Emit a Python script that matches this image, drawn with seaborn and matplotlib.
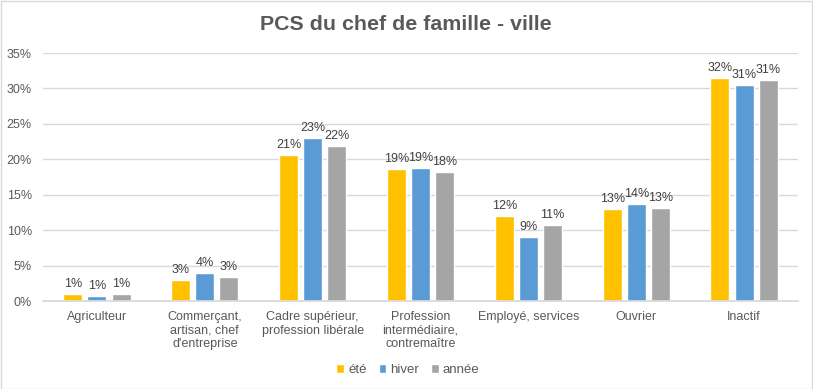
import matplotlib
matplotlib.use("Agg")
import matplotlib.pyplot as plt
import seaborn as sns
import pandas as pd
from matplotlib.patches import Rectangle

categories = ["Agriculteur", "Commerçant,\nartisan, chef\nd'entreprise",
              "Cadre supérieur,\nprofession libérale",
              "Profession\nintermédiaire,\ncontremaître",
              "Employé, services", "Ouvrier", "Inactif"]
series = ["été", "hiver", "année"]
ete = [1.0, 2.9, 20.6, 18.6, 12.0, 13.0, 31.5]
hiver = [0.7, 3.95, 23.0, 18.8, 9.0, 13.7, 30.5]
annee = [1.0, 3.4, 21.9, 18.2, 10.7, 13.1, 31.2]
labels_ete = ["1%", "3%", "21%", "19%", "12%", "13%", "32%"]
labels_hiver = ["1%", "4%", "23%", "19%", "9%", "14%", "31%"]
labels_annee = ["1%", "3%", "22%", "18%", "11%", "13%", "31%"]
colors = ["#FFC000", "#5B9BD5", "#A5A5A5"]

sns.set_theme(style="white")
plt.rcParams['font.family'] = ['Liberation Sans', 'DejaVu Sans']

rows = []
for name, vals in zip(series, [ete, hiver, annee]):
    for c, v in zip(categories, vals):
        rows.append({"cat": c, "serie": name, "val": v})
df = pd.DataFrame(rows)

fig = plt.figure(figsize=(8.13, 3.89), dpi=100)
ax = fig.add_axes([43/813, 1-301/389, (798-43)/813, (301-53)/389])
sns.barplot(data=df, x="cat", y="val", hue="serie", hue_order=series,
            order=categories, palette=colors, width=0.67, gap=0.21,
            saturation=1, ax=ax, legend=True)

all_labels = [labels_ete, labels_hiver, labels_annee]
for cont, labs in zip(ax.containers, all_labels):
    ax.bar_label(cont, labels=labs, padding=3, fontsize=9, color="#404040")

ax.set_ylim(0, 35)
ax.set_xlim(-0.5, 6.5)
ax.set_yticks(range(0, 36, 5))
ax.set_yticklabels([f"{t}%" for t in range(0, 36, 5)], fontsize=9, color="#595959")
ax.tick_params(axis="x", labelsize=9, labelcolor="#595959", length=0, pad=7)
ax.tick_params(axis="y", length=0, pad=8)
ax.set_xlabel("")
ax.set_ylabel("")
ax.yaxis.grid(True, color="#D9D9D9", linewidth=1)
ax.set_axisbelow(True)
for s in ["top", "right", "left"]:
    ax.spines[s].set_visible(False)
ax.spines["bottom"].set_color("#D9D9D9")

fig.text(406/813, 1-24/389, "PCS du chef de famille - ville", ha="center", va="center",
         fontsize=15.4, fontweight="bold", color="#595959")

leg = ax.legend(loc="center", bbox_to_anchor=(408/813, 1-370/389),
                bbox_transform=fig.transFigure, ncol=3, frameon=False,
                fontsize=9.5, handlelength=0.6, handleheight=0.6,
                handletextpad=0.3, columnspacing=0.9)
for t in leg.get_texts():
    t.set_color("#595959")

fig.patches.append(Rectangle((0.5/813, 0.5/389), 1-1.5/813, 1-1.5/389,
                             transform=fig.transFigure, fill=False,
                             edgecolor="#D9D9D9", linewidth=1))
fig.savefig("out.png", dpi=100)
